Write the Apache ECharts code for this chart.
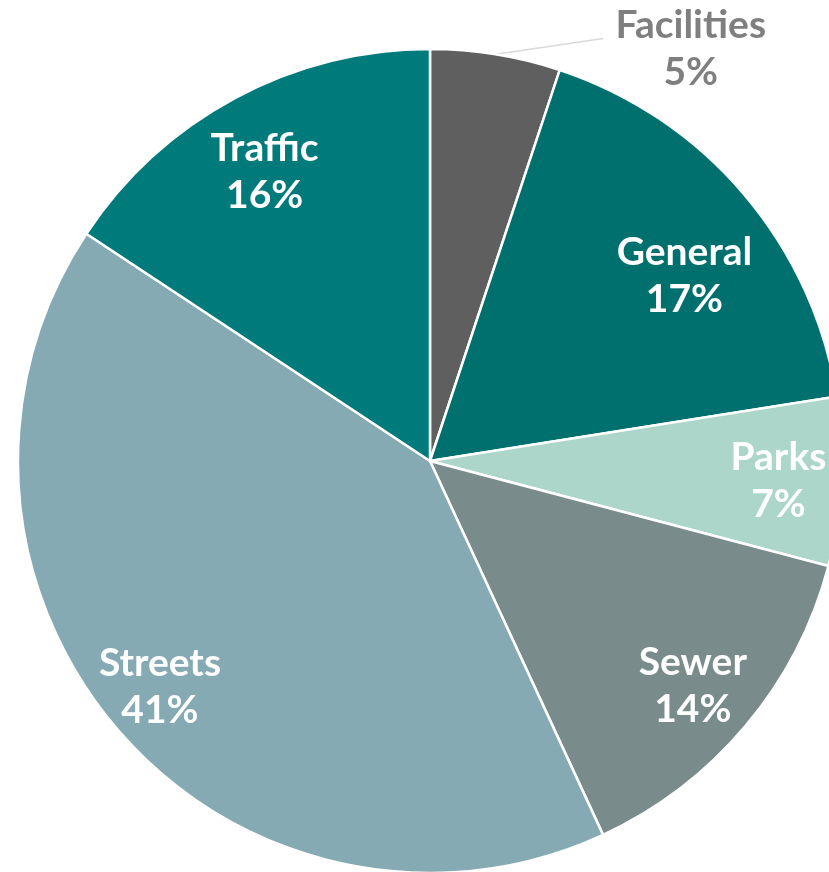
<!DOCTYPE html>
<html>
<head>
<meta charset="utf-8">
<script src="https://cdn.jsdelivr.net/npm/echarts@6/dist/echarts.min.js"></script>
<style>
  html, body { margin: 0; padding: 0; background: #fff; }
  #chart-pie { width: 829px; height: 872px; }
</style>
</head>
<body>
<div id="chart-pie"></div>
<script>
// slice data, clockwise from 12 o'clock
const categories = ["Facilities", "General", "Parks", "Sewer", "Streets", "Traffic"];
const values = [5.1, 17.4, 6.6, 14.0, 41.2, 15.7];
const colors = ["#5f5f5f", "#00706e", "#acd6ca", "#7a8b8b", "#86aab4", "#007a7a"];

// nudges for the inner labels (Excel "best fit" placement)
const labelOffsets = {
  General: [-7, 37],
  Parks: [6, 3],
  Sewer: [0, 5],
  Streets: [-10, 2],
  Traffic: [-3, 13],
};

const chart = echarts.init(document.getElementById("chart-pie"));

const pct = (p) => Math.round(p.percent) + "%";
const center = [430, 461];
const R = 412;
const FONT = "Lato";
const SIZE = 39;
const LH = 47;

const mainData = categories.map((name, i) => {
  const item = { name: name, value: values[i], itemStyle: { color: colors[i] } };
  if (name === "Facilities") {
    item.label = {
      show: true,
      position: "outside",
      formatter: (p) => "{a|" + p.name + "}\n{a|" + pct(p) + "}",
      padding: [20, 0, 0, 0],
      rich: {
        a: {
          width: 165,
          align: "center",
          color: "#7f7f7f",
          fontFamily: FONT,
          fontWeight: "bold",
          fontSize: SIZE,
          lineHeight: LH,
        },
      },
    };
    item.labelLine = {
      show: true,
      length: 16,
      length2: 105,
      lineStyle: { color: "#d9d9d9", width: 1.5 },
    };
  }
  return item;
});

const labelData = categories.map((name, i) => ({
  name: name,
  value: values[i],
  label: {
    show: name !== "Facilities",
    offset: labelOffsets[name] || [0, 0],
  },
}));

const option = {
  animation: false,
  series: [
    {
      type: "pie",
      center: center,
      radius: R,
      startAngle: 90,
      clockwise: true,
      avoidLabelOverlap: false,
      itemStyle: { borderColor: "#ffffff", borderWidth: 2.5 },
      label: { show: false },
      labelLine: { show: false },
      labelLayout: (params) => {
        const pts = params.labelLinePoints;
        if (pts && pts.length === 3) {
          return { labelLinePoints: [pts[0], pts[2]] };
        }
        return {};
      },
      data: mainData,
    },
    {
      // transparent ring used only to place the inner labels
      type: "pie",
      center: center,
      radius: [R * 0.65, R],
      startAngle: 90,
      clockwise: true,
      silent: true,
      avoidLabelOverlap: false,
      itemStyle: { color: "rgba(0,0,0,0)" },
      label: {
        position: "inside",
        formatter: (p) => p.name + "\n" + pct(p),
        color: "#ffffff",
        fontFamily: FONT,
        fontWeight: "bold",
        fontSize: SIZE,
        lineHeight: LH,
      },
      labelLine: { show: false },
      data: labelData,
    },
  ],
};

chart.setOption(option);
</script>
</body>
</html>
